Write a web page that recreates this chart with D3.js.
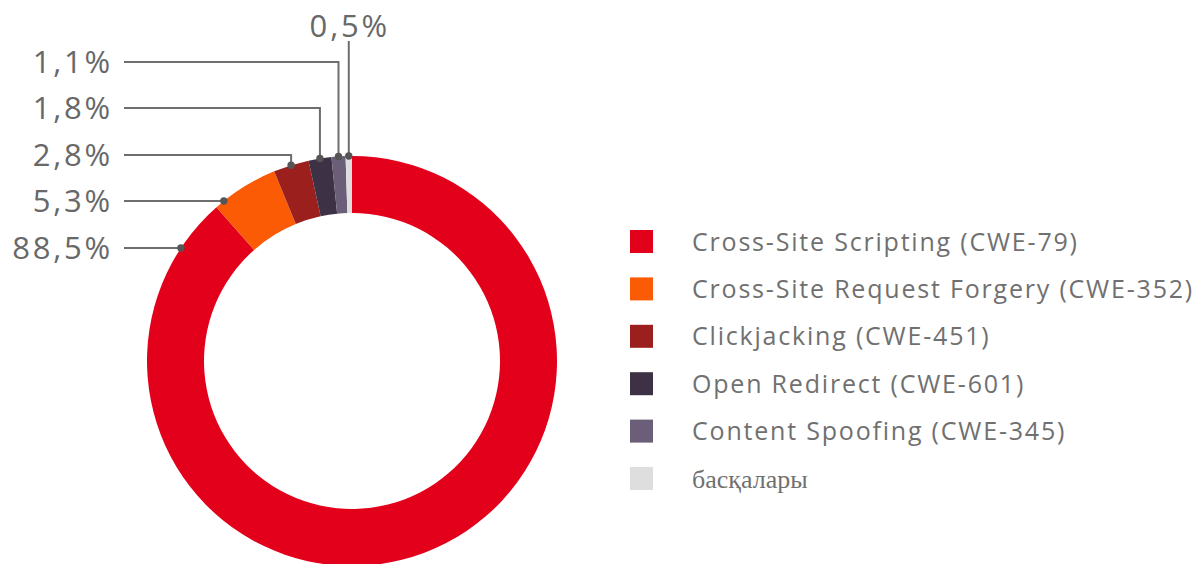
<!DOCTYPE html>
<html>
<head>
<meta charset="utf-8">
<script src="https://cdn.jsdelivr.net/npm/d3@7"></script>
<style>
  html, body { margin: 0; padding: 0; background: #fff; }
  svg { display: block; }
</style>
</head>
<body>
<svg id="chart" width="1198" height="564"></svg>
<script>
// Share of vulnerability types (percent)
const categories = [
  "Cross-Site Scripting (CWE-79)",
  "Cross-Site Request Forgery (CWE-352)",
  "Clickjacking (CWE-451)",
  "Open Redirect (CWE-601)",
  "Content Spoofing (CWE-345)",
  "басқалары"
];
const values = [88.5, 5.3, 2.8, 1.8, 1.1, 0.5];
const colors = ["#e3001b", "#fb5b05", "#9b201d", "#3c3145", "#6b5e78", "#dedede"];

const svg = d3.select("#chart");
const sans = "'Open Sans', Lato, sans-serif";

// Donut geometry
const cx = 352, cy = 361, R = 205, r = 148;

const pie = d3.pie().sort(null).value(d => d.value);
const arc = d3.arc().innerRadius(r).outerRadius(R);
const data = categories.map((c, i) => ({ name: c, value: values[i], color: colors[i] }));
const arcs = pie(data);

const g = svg.append("g").attr("transform", `translate(${cx},${cy})`);
g.selectAll("path.slice")
  .data(arcs)
  .join("path")
  .attr("class", "slice")
  .attr("d", arc)
  .attr("fill", d => d.data.color);

// Percent labels with leader lines
const locale = d3.formatLocale({ decimal: ",", thousands: " ", grouping: [3], currency: ["", ""] });
const fmt = v => locale.format(".1f")(v) + "%";

const lineColor = "#6e6e6e";
const textColor = "#686868";
const textRight = 110, lineStart = 124;
// row y for each label (order follows the slices)
const rowY = [248, 201, 155, 108, 62, null];

const ann = svg.append("g");

arcs.forEach((d, i) => {
  const mid = (d.startAngle + d.endAngle) / 2;
  let ax, ay, pts;
  if (i < 2) {
    // horizontal leader meeting the outer rim
    ay = rowY[i];
    ax = cx - Math.sqrt(R * R - (ay - cy) * (ay - cy));
    pts = [[lineStart, ay], [ax, ay]];
  } else if (rowY[i] != null) {
    // elbow leader down to the slice centre on the rim
    ax = cx + R * Math.sin(mid);
    ay = cy - R * Math.cos(mid);
    pts = [[lineStart, rowY[i]], [ax, rowY[i]], [ax, ay]];
  } else {
    // vertical leader up to a label above the ring
    ax = cx + R * Math.sin(mid);
    ay = cy - R * Math.cos(mid);
    pts = [[ax, 41], [ax, ay]];
  }
  ann.append("path")
    .attr("d", d3.line()(pts))
    .attr("fill", "none")
    .attr("stroke", lineColor)
    .attr("stroke-width", 2);
  ann.append("circle")
    .attr("cx", ax).attr("cy", ay).attr("r", 3.7)
    .attr("fill", "#555");

  const t = ann.append("text")
    .text(fmt(d.data.value))
    .attr("font-family", sans)
    .attr("font-size", 31)
    .attr("letter-spacing", 2.8)
    .attr("fill", textColor);
  if (rowY[i] != null) {
    t.attr("x", textRight + 3).attr("y", rowY[i] + 11).attr("text-anchor", "end");
  } else {
    t.attr("x", ax + 1).attr("y", 37).attr("text-anchor", "middle");
  }
});

// Legend
const legend = svg.append("g").attr("transform", "translate(630,242)");
const rowGap = 47.4;
const items = legend.selectAll("g.item")
  .data(data)
  .join("g")
  .attr("class", "item")
  .attr("transform", (d, i) => `translate(0,${i * rowGap})`);
items.append("rect")
  .attr("x", 0).attr("y", -12)
  .attr("width", 23).attr("height", 23)
  .attr("fill", d => d.color);
items.append("text")
  .attr("x", 62)
  .attr("y", 8.5)
  .text(d => d.name)
  .attr("font-family", (d, i) => i === 5 ? "'Liberation Serif', serif" : sans)
  .attr("font-size", (d, i) => i === 5 ? 26 : 25)
  .attr("letter-spacing", (d, i) => i === 5 ? 0 : 1.8)
  .attr("fill", "#707070");
</script>
</body>
</html>
